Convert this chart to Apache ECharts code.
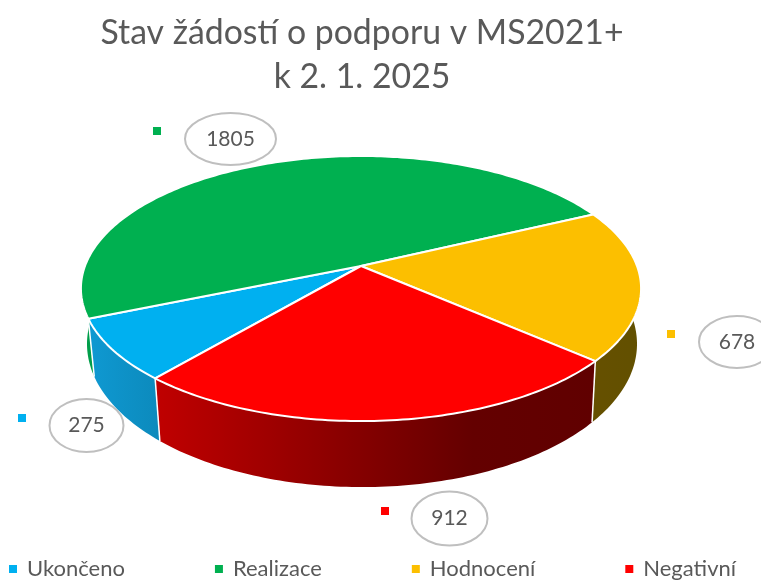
<!DOCTYPE html>
<html><head><meta charset="utf-8">
<style>html,body{margin:0;padding:0;background:#fff}#c{width:761px;height:580px}</style>
<script src="https://cdn.jsdelivr.net/npm/echarts@6/dist/echarts.min.js"></script>
</head><body><div id="c"></div>
<script>
const titleLines = ['Stav žádostí o podporu v MS2021+', 'k 2. 1. 2025'];
const categories = ['Ukončeno', 'Realizace', 'Hodnocení', 'Negativní'];
const values = [275, 1805, 678, 912];
const colors = ['#00B0F0', '#00B050', '#FCBF00', '#FF0000'];
const wallStops = [
  [[0, '#0F99D2'], [1, '#0C8ABC']],
  [[0, '#009E4A'], [1, '#009E4A']],
  [[0, '#665000'], [1, '#625000']],
  [[0, '#C00000'], [0.72, '#640000'], [1, '#600000']]
];
// layout of the perspective drawing
const firstSliceAngle = 130.5;
const k = 0.17;
const topPlane = {x: 361, y: 266, a: 276, b: 128.7};
const basePlane = {x: 362, y: 319.6, a: 271, b: 139};
const callouts = [
  {cx: 86.5, cy: 425.5, rx: 37, ry: 26.5, kx: 22, ky: 418},
  {cx: 230.5, cy: 139, rx: 45.5, ry: 26, kx: 157, ky: 131},
  {cx: 737, cy: 342, rx: 38, ry: 26, kx: 671, ky: 334},
  {cx: 449.5, cy: 518.5, rx: 38, ry: 27, kx: 385, ky: 511}
];
const FONT = 'Lato, "Open Sans", sans-serif';
const total = values.reduce((a, b) => a + b, 0);
const project = (deg, p) => {
  const t = deg * Math.PI / 180, u = Math.cos(t), v = Math.sin(t), d = 1 - k * v;
  return [p.x + p.a * u / d, p.y + p.b * v / d];
};
const arc = (from, to, p) => {
  const pts = [], n = Math.max(2, Math.ceil(Math.abs(to - from)));
  for (let i = 0; i <= n; i++) pts.push(project(from + (to - from) * i / n, p));
  return pts;
};
function renderSlice(params, api) {
  const i = params.seriesIndex;
  const before = values.slice(0, i).reduce((a, b) => a + b, 0);
  const a0 = firstSliceAngle + before / total * 360;
  const a1 = a0 + api.value(0) / total * 360;
  const children = [];
  const wall = arc(a0, a1, topPlane).concat(arc(a1, a0, basePlane));
  children.push({
    type: 'polygon', z2: 1, shape: {points: wall},
    style: {fill: new echarts.graphic.LinearGradient(0, 0, 1, 0, wallStops[i].map(s => ({offset: s[0], color: s[1]})))}
  });
  if (Math.sin(a0 * Math.PI / 180) > 0) {
    const p0 = project(a0, topPlane), p1 = project(a0, basePlane);
    children.push({type: 'line', z2: 2, shape: {x1: p0[0], y1: p0[1], x2: p1[0], y2: p1[1]},
      style: {stroke: '#fff', lineWidth: 1.5}});
  }
  children.push({
    type: 'polygon', z2: 3,
    shape: {points: [[topPlane.x, topPlane.y]].concat(arc(a0, a1, topPlane))},
    style: {fill: colors[i], stroke: '#fff', lineWidth: 2, lineJoin: 'round'}
  });
  const c = callouts[i];
  children.push({type: 'ellipse', z2: 5, shape: {cx: c.cx, cy: c.cy, rx: c.rx, ry: c.ry},
    style: {fill: '#fff', stroke: '#BFBFBF', lineWidth: 2}});
  children.push({type: 'text', z2: 6, x: c.cx, y: c.cy, style: {
    text: String(api.value(0)), fill: '#595959', font: '21px ' + FONT, align: 'center', verticalAlign: 'middle'}});
  children.push({type: 'rect', z2: 5, shape: {x: c.kx - 4, y: c.ky - 4, width: 8, height: 8},
    style: {fill: colors[i]}});
  return {type: 'group', children};
}
const chart = echarts.init(document.getElementById('c'), null, {renderer: 'canvas'});
chart.setOption({
  animation: false,
  backgroundColor: '#fff',
  title: {
    text: titleLines.join('\n'), left: 357, top: 6, textAlign: 'center',
    textStyle: {fontFamily: FONT, fontSize: 33.8, fontWeight: 'normal', color: '#595959', lineHeight: 44}
  },
  legend: {
    data: categories, left: 9, top: 558, padding: 0, itemGap: 90, itemWidth: 8, itemHeight: 8, icon: 'rect',
    selectedMode: false,
    textStyle: {fontFamily: FONT, fontSize: 22, color: '#595959', padding: [0, 0, 0, 5]}
  },
  series: categories.map((name, i) => ({
    type: 'custom', name, coordinateSystem: 'none', silent: true,
    itemStyle: {color: colors[i]}, renderItem: renderSlice, data: [[values[i]]], clip: false
  }))
});
</script></body></html>
